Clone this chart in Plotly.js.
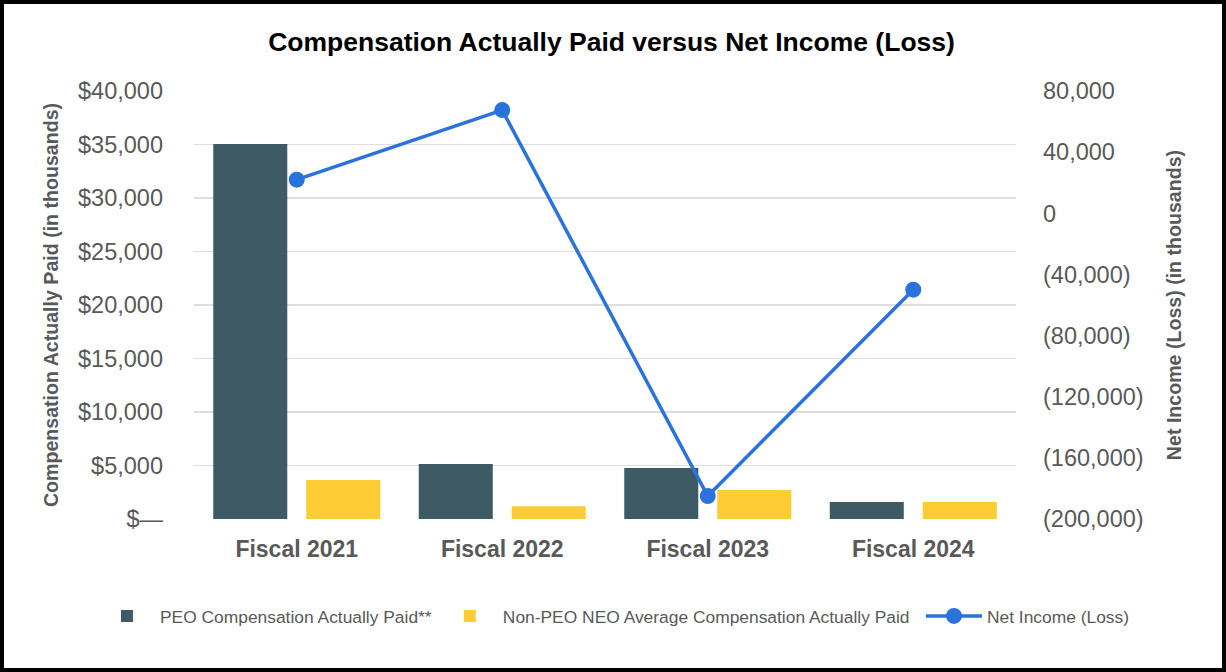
<!DOCTYPE html>
<html>
<head>
<meta charset="utf-8">
<script src="https://cdn.plot.ly/plotly-3.0.1.min.js"></script>
<style>
  html, body { margin: 0; padding: 0; background: #ffffff; }
  #wrap { position: relative; width: 1226px; height: 672px; }
  #chart { position: absolute; left: 0; top: 0; width: 1226px; height: 672px; }
  #frame { position: absolute; left: 0; top: 0; width: 1226px; height: 672px; box-sizing: border-box; border: 4px solid #000; pointer-events: none; }
</style>
</head>
<body>
<div id="wrap">
  <div id="chart"></div>
  <div id="frame"></div>
</div>
<script>
// ---- data ----
const categories = ["Fiscal 2021", "Fiscal 2022", "Fiscal 2023", "Fiscal 2024"];
const peoCAP = [35050, 5150, 4770, 1600];          // $ thousands
const nonPeoCAP = [3650, 1200, 2700, 1600];        // $ thousands
const netIncome = [22000, 67500, -185000, -50000]; // thousands

const leftTickVals = [0, 5000, 10000, 15000, 20000, 25000, 30000, 35000, 40000];
const leftTickText = ["$—", "$5,000", "$10,000", "$15,000", "$20,000", "$25,000", "$30,000", "$35,000", "$40,000"];
const rightTickVals = [-200000, -160000, -120000, -80000, -40000, 0, 40000, 80000];
const rightTickText = ["(200,000)", "(160,000)", "(120,000)", "(80,000)", "(40,000)", "0", "40,000", "80,000"];

const seriesNames = ["PEO Compensation Actually Paid**", "Non-PEO NEO Average Compensation Actually Paid", "Net Income (Loss)"];
const chartTitle = "Compensation Actually Paid versus Net Income (Loss)";
const leftTitle = "Compensation Actually Paid (in thousands)";
const rightTitle = "Net Income (Loss) (in thousands)";

// ---- styling ----
const ARIAL = "'Liberation Sans', Arial, sans-serif";
const GRAY = "#595959";

const traces = [
  {
    type: "bar", name: seriesNames[0], x: categories, y: peoCAP, legend: "legend",
    marker: { color: "#3d5a65" }, yaxis: "y", hoverinfo: "skip"
  },
  {
    type: "bar", name: seriesNames[1], x: categories, y: nonPeoCAP, legend: "legend",
    marker: { color: "#fdcb32" }, yaxis: "y", hoverinfo: "skip"
  },
  {
    type: "scatter", mode: "lines+markers", name: seriesNames[2], x: categories, y: netIncome,
    legend: "legend2",
    yaxis: "y2", line: { color: "#2a73dd", width: 3.5 },
    marker: { color: "#2a73dd", size: 16 }, hoverinfo: "skip"
  }
];

const legendFont = { family: ARIAL, size: 17.4, color: GRAY };

const layout = {
  width: 1226, height: 672,
  paper_bgcolor: "#ffffff", plot_bgcolor: "#ffffff",
  margin: { l: 194, r: 210, t: 91, b: 153, pad: 0 },
  barmode: "group", bargap: 0.095, bargroupgap: 0.204,
  showlegend: true,
  title: {
    text: chartTitle,
    font: { family: ARIAL, size: 26.5, color: "#000000", weight: 700 },
    xref: "container", x: 0.4988, xanchor: "center",
    yref: "container", y: 1 - 42 / 672, yanchor: "middle"
  },
  xaxis: {
    type: "category", showgrid: false, zeroline: false, showline: false, ticks: "",
    tickfont: { family: ARIAL, size: 23, color: GRAY, weight: 700 },
    ticklabelstandoff: 14
  },
  yaxis: {
    range: [0, 40000], tickmode: "array", tickvals: leftTickVals, ticktext: leftTickText,
    showgrid: true, gridcolor: "#dedede", gridwidth: 1.5, zeroline: false, showline: false, ticks: "",
    tickfont: { family: ARIAL, size: 23.5, color: GRAY },
    ticklabelstandoff: 30,
    title: { text: leftTitle, standoff: 14, font: { family: ARIAL, size: 19.6, color: GRAY, weight: 700 } }
  },
  yaxis2: {
    overlaying: "y", side: "right",
    range: [-200000, 80000], tickmode: "array", tickvals: rightTickVals, ticktext: rightTickText,
    showgrid: false, zeroline: false, showline: false, ticks: "",
    tickfont: { family: ARIAL, size: 23.5, color: GRAY },
    ticklabelstandoff: 26,
    title: { text: rightTitle, standoff: 24, font: { family: ARIAL, size: 19.6, color: GRAY, weight: 700 } }
  },
  legend: {
    orientation: "h", xref: "paper", yref: "paper",
    x: -0.1217, xanchor: "left", y: -0.227, yanchor: "middle",
    font: legendFont, itemwidth: 56, traceorder: "normal", bgcolor: "rgba(0,0,0,0)"
  },
  legend2: {
    orientation: "h", xref: "paper", yref: "paper",
    x: 0.8844, xanchor: "left", y: -0.227, yanchor: "middle",
    font: legendFont, itemwidth: 56, bgcolor: "rgba(0,0,0,0)"
  }
};

Plotly.newPlot("chart", traces, layout, { staticPlot: true, displayModeBar: false });
</script>
</body>
</html>
